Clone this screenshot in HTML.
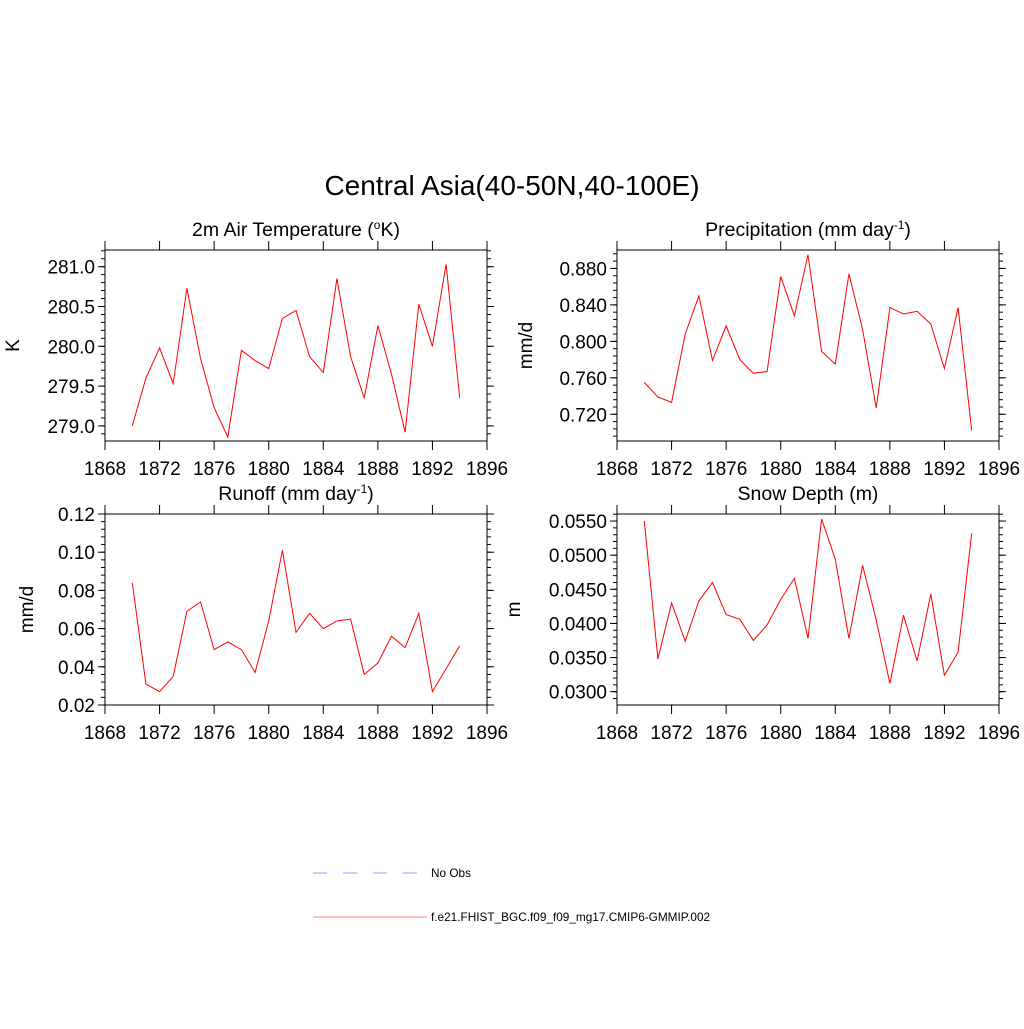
<!DOCTYPE html>
<html><head><meta charset="utf-8"><style>
body{margin:0;background:#fff;}
svg text{font-family:"Liberation Sans",sans-serif;fill:#000;}
</style></head><body>
<svg id="chart" width="1024" height="1024" viewBox="0 0 1024 1024" xmlns="http://www.w3.org/2000/svg">
<text x="512" y="195" font-size="28" text-anchor="middle">Central Asia(40-50N,40-100E)</text>
<g id="panels"></g>
<g>
<line x1="313" y1="873" x2="420" y2="873" stroke="#aaaaff" stroke-width="1.2" stroke-dasharray="14,16"/>
<text x="431" y="877" font-size="11.8">No Obs</text>
<line x1="313" y1="917" x2="427" y2="917" stroke="#ff9999" stroke-width="1.2"/>
<text x="431" y="921" font-size="11.8">f.e21.FHIST_BGC.f09_f09_mg17.CMIP6-GMMIP.002</text>
</g>
</svg>
<script>
const years = [1870,1871,1872,1873,1874,1875,1876,1877,1878,1879,1880,1881,1882,1883,1884,1885,1886,1887,1888,1889,1890,1891,1892,1893,1894];
const xTicks = [1868,1872,1876,1880,1884,1888,1892,1896];
const tempValues = [279.0,279.6,279.98,279.53,280.73,279.85,279.23,278.86,279.95,279.82,279.72,280.35,280.45,279.87,279.67,280.85,279.87,279.35,280.26,279.65,278.92,280.53,280.0,281.03,279.35];
const tempTicks = ["279.0","279.5","280.0","280.5","281.0"];
const precipValues = [0.755,0.739,0.733,0.808,0.850,0.779,0.817,0.780,0.765,0.767,0.871,0.828,0.895,0.789,0.775,0.874,0.813,0.727,0.837,0.830,0.833,0.819,0.770,0.837,0.702];
const precipTicks = ["0.720","0.760","0.800","0.840","0.880"];
const runoffValues = [0.084,0.031,0.027,0.035,0.069,0.074,0.049,0.053,0.049,0.037,0.064,0.101,0.058,0.068,0.060,0.064,0.065,0.036,0.042,0.056,0.050,0.068,0.027,0.039,0.051];
const runoffTicks = ["0.02","0.04","0.06","0.08","0.10","0.12"];
const snowValues = [0.0550,0.0348,0.0430,0.0374,0.0433,0.0460,0.0413,0.0406,0.0375,0.0398,0.0435,0.0466,0.0378,0.0553,0.0494,0.0378,0.0485,0.0405,0.0312,0.0412,0.0345,0.0443,0.0324,0.0358,0.0532];
const snowTicks = ["0.0300","0.0350","0.0400","0.0450","0.0500","0.0550"];

const NS="http://www.w3.org/2000/svg";
const root=document.getElementById('panels');
function mk(tag,attrs,parent){const e=document.createElementNS(NS,tag);for(const k in attrs)e.setAttribute(k,attrs[k]);parent.appendChild(e);return e;}

function panel(cfg){
  const g=mk('g',{},root);
  
  
  const L=cfg.x,R=cfg.x+382,T=cfg.y,B=cfg.y+191;
  const xs=v=>L+(v-1868)/(1896-1868)*(R-L);
  const ys=v=>B-(v-cfg.ymin)/(cfg.ymax-cfg.ymin)*(B-T);
  const ax=mk('g',{stroke:'#000','stroke-width':1},g);
  
  
  mk('rect',{x:L,y:T,width:R-L,height:B-T,fill:'none'},ax);
  for(let v=cfg.minorStart;v<=cfg.ymax+1e-9;v+=cfg.minor){
    const y=ys(v); if(y<T-0.5||y>B+0.5) continue;
    mk('line',{x1:L-4,y1:y,x2:L,y2:y},ax);mk('line',{x1:R,y1:y,x2:R+4,y2:y},ax);
  }
  cfg.ticks.forEach(t=>{
    const y=ys(parseFloat(t));
    mk('line',{x1:L-7,y1:y,x2:L,y2:y},ax);mk('line',{x1:R,y1:y,x2:R+7,y2:y},ax);
    const tx=mk('text',{x:L-10,y:y+7,'font-size':19,'text-anchor':'end',stroke:'none'},g);tx.textContent=t;
    
    
  });
  xTicks.forEach(t=>{
    const x=xs(t);
    mk('line',{x1:x,y1:B,x2:x,y2:B+9},ax);mk('line',{x1:x,y1:T-9,x2:x,y2:T},ax);
    const tx=mk('text',{x:x,y:B+34,'font-size':19,'text-anchor':'middle',stroke:'none'},g);tx.textContent=t;
    
    
  });
  const ti=mk('text',{x:(L+R)/2,y:T-14,'font-size':19.5,'text-anchor':'middle'},g);ti.innerHTML=cfg.title;
  
  
  const yl=mk('text',{x:0,y:0,'font-size':19,'text-anchor':'middle',transform:`translate(${cfg.ylx},${(T+B)/2}) rotate(-90)`},g);yl.textContent=cfg.ylabel;
  
  
  const pts=years.map((yr,i)=>xs(yr).toFixed(1)+','+ys(cfg.values[i]).toFixed(1)).join(' ');
  const pl=mk('polyline',{points:pts,fill:'none',stroke:'#ff0000','stroke-width':1},g);
  
  
}
const sup=s=>`<tspan baseline-shift="super" font-size="12">${s}</tspan>`;
panel({name:'temperature-panel',x:105,y:250,ymin:278.81,ymax:281.21,minor:0.1,minorStart:278.9,ticks:tempTicks,values:tempValues,
  title:`2m Air Temperature (${sup('o')}K)`,ylabel:'K',ylx:19});
panel({name:'precipitation-panel',x:617,y:250,ymin:0.6907,ymax:0.9002,minor:0.008,minorStart:0.696,ticks:precipTicks,values:precipValues,
  title:`Precipitation (mm day${sup('-1')})`,ylabel:'mm/d',ylx:532});
panel({name:'runoff-panel',x:105,y:514,ymin:0.02,ymax:0.12,minor:0.004,minorStart:0.02,ticks:runoffTicks,values:runoffValues,
  title:`Runoff (mm day${sup('-1')})`,ylabel:'mm/d',ylx:33});
panel({name:'snow-depth-panel',x:617,y:514,ymin:0.02805,ymax:0.05603,minor:0.001,minorStart:0.029,ticks:snowTicks,values:snowValues,
  title:'Snow Depth (m)',ylabel:'m',ylx:520});
</script>
</body></html>
